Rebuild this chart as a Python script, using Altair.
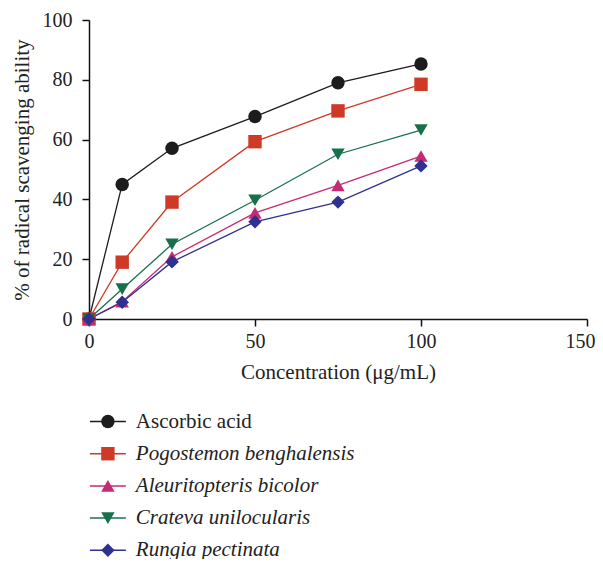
import altair as alt
import pandas as pd

conc = [0, 10, 25, 50, 75, 100]
series_names = [
    "Ascorbic acid",
    "Pogostemon benghalensis",
    "Aleuritopteris bicolor",
    "Crateva unilocularis",
    "Rungia pectinata",
]
ascorbic = [0, 45.0, 57.1, 67.7, 79.0, 85.3]
pogostemon = [0, 19.0, 39.1, 59.3, 69.6, 78.5]
aleuritopteris = [0, 5.8, 20.8, 35.5, 44.7, 54.5]
crateva = [0, 10.0, 25.0, 39.7, 55.1, 63.2]
rungia = [0, 5.6, 19.1, 32.5, 39.1, 51.2]

colors = ["#1c1c1c", "#cf3a27", "#c62a72", "#17704a", "#2f3190"]
shapes = ["circle", "square", "triangle-up", "triangle-down", "diamond"]

rows = []
for name, vals in zip(series_names, [ascorbic, pogostemon, aleuritopteris, crateva, rungia]):
    for c, v in zip(conc, vals):
        rows.append({"conc": c, "value": v, "series": name, "name": name})
df = pd.DataFrame(rows)

FONT = "Liberation Serif"
LX, LY = 8.4, 391
common_legend = dict(
    orient="none", legendX=LX, legendY=LY, title=None, direction="vertical",
    symbolSize=180, labelFont=FONT, labelFontSize=21, labelColor="#222222",
    labelOffset=17.4, rowPadding=10.2, labelLimit=400,
)

x = alt.X("conc:Q", title="Concentration (μg/mL)",
          scale=alt.Scale(domain=[0, 150], nice=False, zero=True),
          axis=alt.Axis(
              values=[0, 50, 100, 150], grid=False, labelFlush=False,
              labelAlign={"condition": {"test": "datum.value == 150", "value": "right"},
                          "value": "center"},
              labelOffset={"condition": {"test": "datum.value == 150", "value": 8},
                           "value": 0},
          ))
y = alt.Y("value:Q", title="% of radical scavenging ability",
          scale=alt.Scale(domain=[0, 100], nice=False),
          axis=alt.Axis(values=[0, 20, 40, 60, 80, 100], grid=False))

lines = alt.Chart(df).mark_line(strokeWidth=1.3).encode(
    x=x, y=y,
    color=alt.Color("series:N", sort=series_names,
                    scale=alt.Scale(range=colors),
                    legend=alt.Legend(
                        symbolType="M-2.68,0H2.68", symbolStrokeWidth=1.5,
                        labelExpr="datum.label == 'Ascorbic acid' ? datum.label : ''",
                        labelFontStyle="normal", **common_legend)),
)

points = alt.Chart(df).mark_point(filled=True, size=180, opacity=1).encode(
    x=x, y=y,
    fill=alt.Fill("name:N",
                  scale=alt.Scale(domain=series_names, range=colors),
                  legend=alt.Legend(
                      labelExpr="datum.label == 'Ascorbic acid' ? '' : datum.label",
                      labelFontStyle="italic", symbolStrokeWidth=0, **common_legend)),
    shape=alt.Shape("name:N",
                    scale=alt.Scale(domain=series_names, range=shapes),
                    legend=alt.Legend(
                        labelExpr="datum.label == 'Ascorbic acid' ? '' : datum.label",
                        labelFontStyle="italic", symbolStrokeWidth=0, **common_legend)),
)

chart = alt.layer(lines, points).properties(
    width=498, height=299,
    padding={"left": 81, "top": 12, "right": 8, "bottom": 240},
    autosize=alt.AutoSizeParams(type="none"),
).configure_view(stroke=None).configure_axis(
    domainColor="#111111", domainWidth=1.5, tickColor="#111111", tickWidth=1.5,
    tickSize=7, labelFont=FONT, labelFontSize=20, labelColor="#222222",
    titleFont=FONT, titleFontSize=21, titleColor="#222222", titleFontWeight="normal",
).configure_axisX(labelPadding=5, titlePadding=10).configure_axisY(
    labelPadding=10, titlePadding=10)

chart.save("out.html", embed_options={"renderer": "svg", "actions": False})
